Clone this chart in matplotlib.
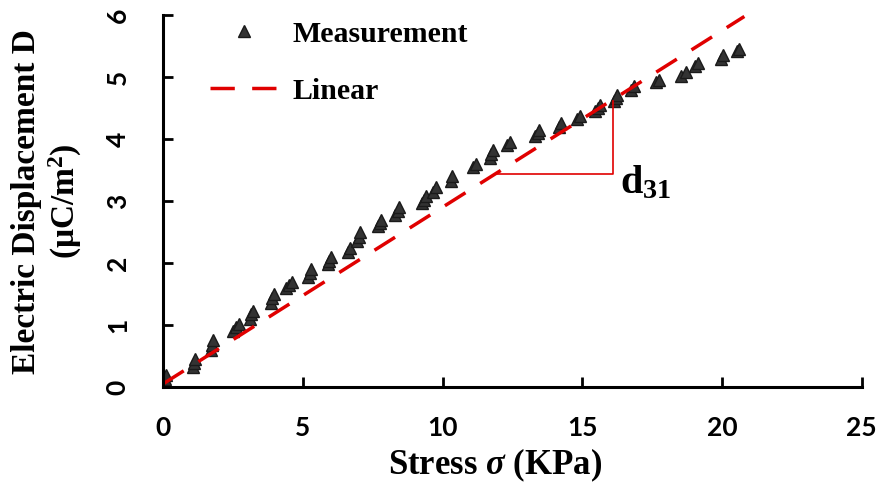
import matplotlib.pyplot as plt

# Messwerte: Spannung (KPa) und dielektrische Verschiebung (uC/m^2)
stress = [0.0, 0.05, 0.1,
          1.05, 1.1, 1.15,
          1.7, 1.75, 1.8,
          2.5, 2.6, 2.7,
          3.1, 3.15, 3.2,
          3.85, 3.9, 3.95,
          4.4, 4.5, 4.6,
          5.2, 5.25, 5.3,
          5.9, 5.95, 6.0,
          6.6, 6.7,
          6.95, 7.0, 7.05,
          7.7, 7.75, 7.8,
          8.3, 8.4, 8.45,
          9.25, 9.35, 9.4,
          9.65, 9.75,
          10.3, 10.35,
          11.1, 11.2,
          11.7, 11.75, 11.8,
          12.3, 12.4,
          13.3, 13.4, 13.45,
          14.15, 14.25,
          14.8, 14.9,
          15.45, 15.55, 15.65,
          16.15, 16.2, 16.25,
          16.75, 16.85,
          17.65, 17.75,
          18.55, 18.7,
          19.05, 19.15,
          19.95, 20.05,
          20.55, 20.6]
disp = [0.05, 0.12, 0.2,
        0.32, 0.38, 0.45,
        0.6, 0.68, 0.75,
        0.9, 0.97, 1.02,
        1.1, 1.17, 1.23,
        1.35, 1.43, 1.5,
        1.6, 1.65, 1.7,
        1.78, 1.84, 1.9,
        1.98, 2.04, 2.1,
        2.18, 2.24,
        2.35, 2.42, 2.5,
        2.6, 2.65, 2.7,
        2.78, 2.84, 2.9,
        2.97, 3.02, 3.08,
        3.15, 3.22,
        3.33, 3.4,
        3.55, 3.6,
        3.7, 3.76, 3.82,
        3.9, 3.95,
        4.05, 4.1, 4.15,
        4.2, 4.26,
        4.33, 4.38,
        4.45, 4.5, 4.55,
        4.62, 4.67, 4.72,
        4.8, 4.85,
        4.92, 4.95,
        5.02, 5.08,
        5.18, 5.23,
        5.3, 5.36,
        5.42, 5.46]

# lineare Naeherung
lin_x = [0.0, 20.8]
lin_y = [0.05, 5.98]

# Steigungsdreieck d31
tri_x = [11.95, 16.1, 16.1]
tri_y = [3.44, 3.44, 4.62]

xticks = [0, 5, 10, 15, 20, 25]
yticks = [0, 1, 2, 3, 4, 5, 6]

plt.rcParams['mathtext.fontset'] = 'custom'
plt.rcParams['mathtext.rm'] = 'Liberation Serif:bold'
plt.rcParams['mathtext.bf'] = 'Liberation Serif:bold'
plt.rcParams['mathtext.it'] = 'Liberation Serif:bold:italic'

serif = {'family': 'Liberation Serif', 'weight': 'bold'}

fig = plt.figure(figsize=(8.82, 4.91), dpi=100)
ax = fig.add_axes([0.185, 0.212, 0.792, 0.757])

ax.plot(stress, disp, linestyle='none', marker='^', markersize=8.5,
        color='#333333', markeredgecolor='#1a1a1a', label='Measurement')
ax.plot(lin_x, lin_y, color='#e00000', linewidth=2.5,
        dashes=(7, 5), label='Linear')
ax.plot(tri_x, tri_y, color='#e00000', linewidth=1.2)
ax.text(16.35, 3.12, r'd$_{\mathbf{31}}$', fontdict=serif, fontsize=29)

ax.set_xlim(0, 25)
ax.set_ylim(0, 6)
ax.set_xticks(xticks)
ax.set_yticks(yticks)
ax.spines['top'].set_visible(False)
ax.spines['right'].set_visible(False)
for s in ['left', 'bottom']:
    ax.spines[s].set_linewidth(2.2)
ax.tick_params(direction='in', length=7, width=2, labelsize=19)
ax.tick_params(axis='x', pad=21)
ax.tick_params(axis='y', pad=24)
for lab in ax.get_xticklabels() + ax.get_yticklabels():
    lab.set_fontfamily('Lato')
    lab.set_fontweight('bold')
for lab in ax.get_yticklabels():
    lab.set_rotation(90)
    lab.set_verticalalignment('center')

ax.set_xlabel(r'Stress $\sigma$ (KPa)', fontdict=serif, fontsize=25)
ax.xaxis.set_label_coords(0.475, -0.16)
ax.set_ylabel('Electric Displacement D\n(μC/m$^{2}$)', fontdict=serif,
              fontsize=24, labelpad=16, linespacing=1.15)

leg = ax.legend(loc='upper left', bbox_to_anchor=(0.067, 0.985), frameon=False,
                prop={'family': 'Liberation Serif', 'weight': 'bold', 'size': 21.5},
                handlelength=2.3, handletextpad=0.45, labelspacing=1.0,
                borderpad=0, borderaxespad=0)

fig.savefig('out.png', dpi=100)
